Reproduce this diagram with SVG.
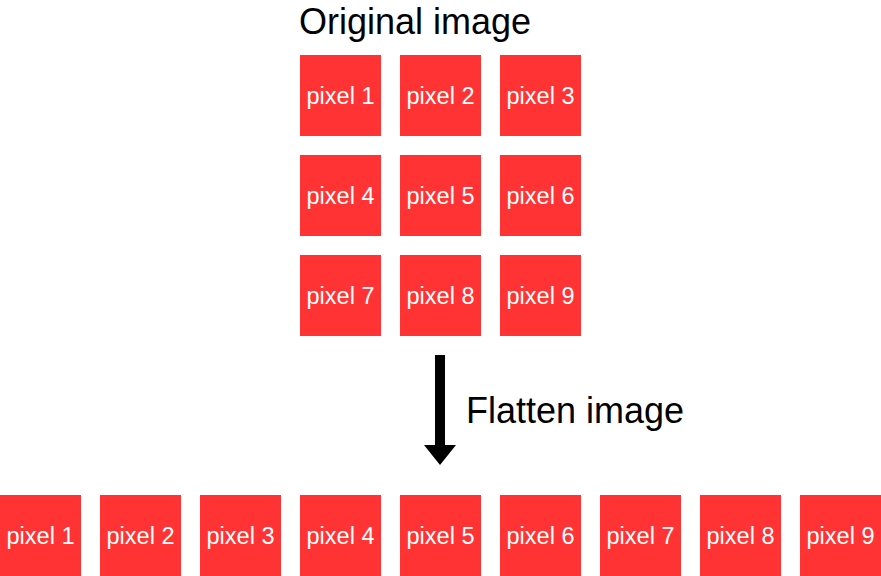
<svg xmlns="http://www.w3.org/2000/svg" width="881" height="576" viewBox="0 0 881 576">
<style>
.px{fill:#ff3333}
.lb{font-family:"Liberation Sans",Arial,sans-serif;font-size:23.5px;fill:#ffffff;text-anchor:middle}
.tt{font-family:"Liberation Sans",Arial,sans-serif;font-size:36px;fill:#000000}
</style>
<rect width="881" height="576" fill="#ffffff"/>
<text class="tt" x="299" y="34">Original image</text>
<g id="grid">
<g id="g1"><rect class="px" x="300" y="55" width="81" height="81"/><text class="lb" x="340.5" y="104">pixel 1</text></g>
<g id="g2"><rect class="px" x="400" y="55" width="81" height="81"/><text class="lb" x="440.5" y="104">pixel 2</text></g>
<g id="g3"><rect class="px" x="500" y="55" width="81" height="81"/><text class="lb" x="540.5" y="104">pixel 3</text></g>
<g id="g4"><rect class="px" x="300" y="155" width="81" height="81"/><text class="lb" x="340.5" y="204">pixel 4</text></g>
<g id="g5"><rect class="px" x="400" y="155" width="81" height="81"/><text class="lb" x="440.5" y="204">pixel 5</text></g>
<g id="g6"><rect class="px" x="500" y="155" width="81" height="81"/><text class="lb" x="540.5" y="204">pixel 6</text></g>
<g id="g7"><rect class="px" x="300" y="255" width="81" height="81"/><text class="lb" x="340.5" y="304">pixel 7</text></g>
<g id="g8"><rect class="px" x="400" y="255" width="81" height="81"/><text class="lb" x="440.5" y="304">pixel 8</text></g>
<g id="g9"><rect class="px" x="500" y="255" width="81" height="81"/><text class="lb" x="540.5" y="304">pixel 9</text></g>
</g>
<g id="connectors">
<path d="M435 355H445V445H456L440 465L424 445H435Z" fill="#000000"/>
</g>
<text class="tt" x="466" y="423">Flatten image</text>
<g id="row">
<g id="f1"><rect class="px" x="0" y="495" width="81" height="81"/><text class="lb" x="40.5" y="544">pixel 1</text></g>
<g id="f2"><rect class="px" x="100" y="495" width="81" height="81"/><text class="lb" x="140.5" y="544">pixel 2</text></g>
<g id="f3"><rect class="px" x="200" y="495" width="81" height="81"/><text class="lb" x="240.5" y="544">pixel 3</text></g>
<g id="f4"><rect class="px" x="300" y="495" width="81" height="81"/><text class="lb" x="340.5" y="544">pixel 4</text></g>
<g id="f5"><rect class="px" x="400" y="495" width="81" height="81"/><text class="lb" x="440.5" y="544">pixel 5</text></g>
<g id="f6"><rect class="px" x="500" y="495" width="81" height="81"/><text class="lb" x="540.5" y="544">pixel 6</text></g>
<g id="f7"><rect class="px" x="600" y="495" width="81" height="81"/><text class="lb" x="640.5" y="544">pixel 7</text></g>
<g id="f8"><rect class="px" x="700" y="495" width="81" height="81"/><text class="lb" x="740.5" y="544">pixel 8</text></g>
<g id="f9"><rect class="px" x="800" y="495" width="81" height="81"/><text class="lb" x="840.5" y="544">pixel 9</text></g>
</g>
</svg>
